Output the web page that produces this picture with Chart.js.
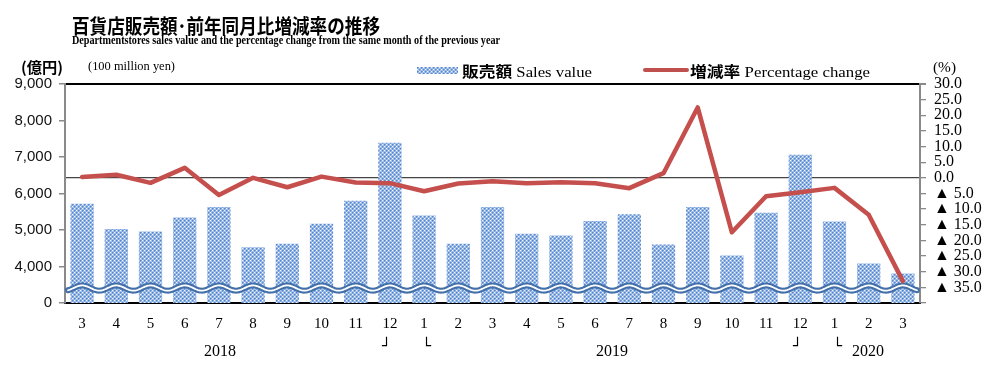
<!DOCTYPE html>
<html>
<head>
<meta charset="utf-8">
<script src="https://cdn.jsdelivr.net/npm/chart.js@4.4.1/dist/chart.umd.min.js"></script>
<style>
  html, body { margin:0; padding:0; background:#fff; overflow:hidden; }
  #wrap { position:relative; width:1000px; height:371px; }
  canvas { position:absolute; left:0; top:0; }
  .t { position:absolute; white-space:nowrap; line-height:1; color:#000; transform-origin:0 50%; }
  .jp { font-family:"Noto Sans CJK JP", sans-serif; font-weight:bold; }
  .sf { font-family:"Liberation Serif", serif; }
  .swatch { position:absolute; }
  .br { position:absolute; font-size:15px; font-family:'DejaVu Sans'; font-weight:bold; line-height:1; }
</style>
</head>
<body>
<div id="wrap">
  <canvas id="c" width="1000" height="371"></canvas>
  <div class="t jp" data-w="308" style="left:72px;top:16px;font-size:20px;">百貨店販売額･前年同月比増減率の推移</div>
  <div class="t sf" data-w="428" style="left:72px;top:34px;font-size:12.5px;font-weight:bold;">Departmentstores sales value and the percentage change from the same month of the previous year</div>
  <div class="t jp" data-w="42" style="left:21px;top:59px;font-size:15px;">(億円)</div>
  <div class="t sf" data-w="87" style="left:88px;top:61px;font-size:11.5px;">(100 million yen)</div>
  <div class="t sf" data-w="23" style="left:933px;top:60px;font-size:15px;">(%)</div>

  <div id="sw1" class="swatch" style="left:417px;top:67px;width:41px;height:7px;"></div>
  <div class="t" data-w="130" style="left:462px;top:63px;font-size:15px;"><span class="jp">販売額</span><span class="sf"> Sales value</span></div>
  <div class="swatch" style="left:643px;top:68px;width:46px;height:4px;background:#c0504d;border-radius:2px;"></div>
  <div class="t" data-w="180" style="left:690px;top:63px;font-size:15px;"><span class="jp">増減率</span><span class="sf"> Percentage change</span></div>

  <div class="t sf" style="left:204px;top:343px;font-size:16px;">2018</div>
  <div class="t sf" style="left:596px;top:343px;font-size:16px;">2019</div>
  <div class="t sf" style="left:852px;top:343px;font-size:16px;">2020</div>
  <div class="br" style="left:382px;top:339px;">┘</div>
  <div class="br" style="left:422px;top:339px;">└</div>
  <div class="br" style="left:793px;top:339px;">┘</div>
  <div class="br" style="left:833px;top:339px;">└</div>
</div>
<script>
// ---- data ----
const months = ['3','4','5','6','7','8','9','10','11','12','1','2','3','4','5','6','7','8','9','10','11','12','1','2','3'];
const salesValue = [5720, 5030, 4960, 5340, 5630, 4530, 4620, 5170, 5800, 7390, 5400, 4620, 5630, 4900, 4850, 5250, 5430, 4600, 5630, 4300, 5470, 7060, 5230, 4080, 3810];
const pctChange = [0.3, 1.0, -1.6, 3.2, -5.5, 0.0, -3.0, 0.4, -1.5, -1.7, -4.3, -1.8, -1.1, -1.7, -1.4, -1.7, -3.3, 1.5, 22.5, -17.4, -5.9, -4.6, -3.2, -11.8, -33.0];
const leftTicks = [3000, 4000, 5000, 6000, 7000, 8000, 9000];
const leftTickLabels = ['0', '4,000', '5,000', '6,000', '7,000', '8,000', '9,000'];
const rightMin = -40, rightMax = 30;

// ---- pattern ----
function makePattern() {
  const c = document.createElement('canvas');
  c.width = 4; c.height = 4;
  const g = c.getContext('2d');
  g.fillStyle = '#a3c0e9'; g.fillRect(0,0,4,4);
  g.fillStyle = '#5585cc';
  g.fillRect(0,0,1,1); g.fillRect(2,2,1,1);
  g.fillStyle = '#7ca2dc';
  g.fillRect(1,0,1,1); g.fillRect(0,1,1,1);
  g.fillRect(3,2,1,1); g.fillRect(2,3,1,1);
  g.fillStyle = '#f2f6fc';
  g.fillRect(2,0,1,1); g.fillRect(0,2,1,1);
  return c;
}
const patCanvas = makePattern();
const ctx = document.getElementById('c').getContext('2d');
const pattern = ctx.createPattern(patCanvas, 'repeat');
document.getElementById('sw1').style.backgroundImage = 'url(' + patCanvas.toDataURL() + ')';

// fit text widths
document.querySelectorAll('[data-w]').forEach(el => {
  const w = el.getBoundingClientRect().width;
  const target = parseFloat(el.dataset.w);
  el.style.transform = 'scaleX(' + (target / w) + ')';
});

// ---- wavy axis-break decoration ----
const waveBreak = {
  id: 'waveBreak',
  afterDatasetDraw(chart, args) {
    if (args.index !== 1) return;
    const {ctx, chartArea: a} = chart;
    const xs = chart.scales.x, ys = chart.scales.y;
    const step = xs.getPixelForValue(1) - xs.getPixelForValue(0);
    const c0 = xs.getPixelForValue(0);
    const yc = ys.getPixelForValue(3410);
    ctx.save();
    ctx.beginPath();
    for (let px = a.left + 3; px <= a.right - 3; px += 1) {
      const y = yc - 2.6 * Math.cos((px - c0) / step * 2 * Math.PI);
      if (px === a.left + 3) ctx.moveTo(px, y); else ctx.lineTo(px, y);
    }
    ctx.lineCap = 'round';
    ctx.strokeStyle = '#4470aa';
    ctx.lineWidth = 6;
    ctx.stroke();
    ctx.strokeStyle = '#ffffff';
    ctx.lineWidth = 1.8;
    ctx.stroke();
    ctx.restore();
  }
};

new Chart(ctx, {
  data: {
    labels: months,
    datasets: [
      {
        type: 'line', label: '増減率 Percentage change', data: pctChange, yAxisID: 'y1',
        borderColor: '#c44f4c', borderWidth: 4.5, pointRadius: 0, tension: 0,
        borderJoinStyle: 'round', borderCapStyle: 'round', order: 0
      },
      {
        type: 'bar', label: '販売額 Sales value', data: salesValue, yAxisID: 'y',
        backgroundColor: pattern, barPercentage: 0.68, categoryPercentage: 1.0, order: 1
      }
    ]
  },
  options: {
    responsive: false,
    animation: false,
    layout: { padding: { top: 84, left: 0, right: 0, bottom: 0 } },
    plugins: { legend: { display: false }, tooltip: { enabled: false } },
    scales: {
      x: {
        grid: { display: false, drawTicks: false },
        border: { color: '#000', width: 2 },
        ticks: { font: { family: 'Liberation Serif', size: 15 }, color: '#000', padding: 12, maxRotation: 0, autoSkip: false },
        afterFit(s) { s.height = 68; }
      },
      y: {
        position: 'left', min: leftTicks[0], max: leftTicks[leftTicks.length - 1],
        afterBuildTicks(s) { s.ticks = leftTicks.map(v => ({ value: v })); },
        ticks: {
          autoSkip: false,
          callback: (v) => leftTickLabels[leftTicks.indexOf(v)],
          font: { family: 'Liberation Sans', size: 15 }, color: '#111', padding: 7
        },
        grid: { drawOnChartArea: false, tickLength: 6, tickColor: '#8a8a8a', lineWidth: 1.5 },
        border: { color: '#8a8a8a', width: 2 },
        afterFit(s) { s.width = 65; }
      },
      y1: {
        position: 'right', min: rightMin, max: rightMax,
        ticks: {
          stepSize: 5, autoSkip: false,
          callback: (v) => v === rightMin ? '' : (v < 0 ? '▲ ' + Math.abs(v).toFixed(1) : v.toFixed(1)),
          font: { family: 'Liberation Serif', size: 16, lineHeight: 1.0 }, color: '#000', padding: 8
        },
        grid: {
          color: (c) => c.tick && c.tick.value === 0 ? '#444' : (c.tick && c.tick.value === rightMax ? '#000' : 'rgba(0,0,0,0)'),
          lineWidth: (c) => c.tick && c.tick.value === rightMax ? 2 : 1.3,
          tickLength: 6, tickColor: '#8a8a8a'
        },
        border: { color: '#8a8a8a', width: 2 },
        afterFit(s) { s.width = 80; }
      }
    }
  },
  plugins: [waveBreak]
});
</script>
</body>
</html>
